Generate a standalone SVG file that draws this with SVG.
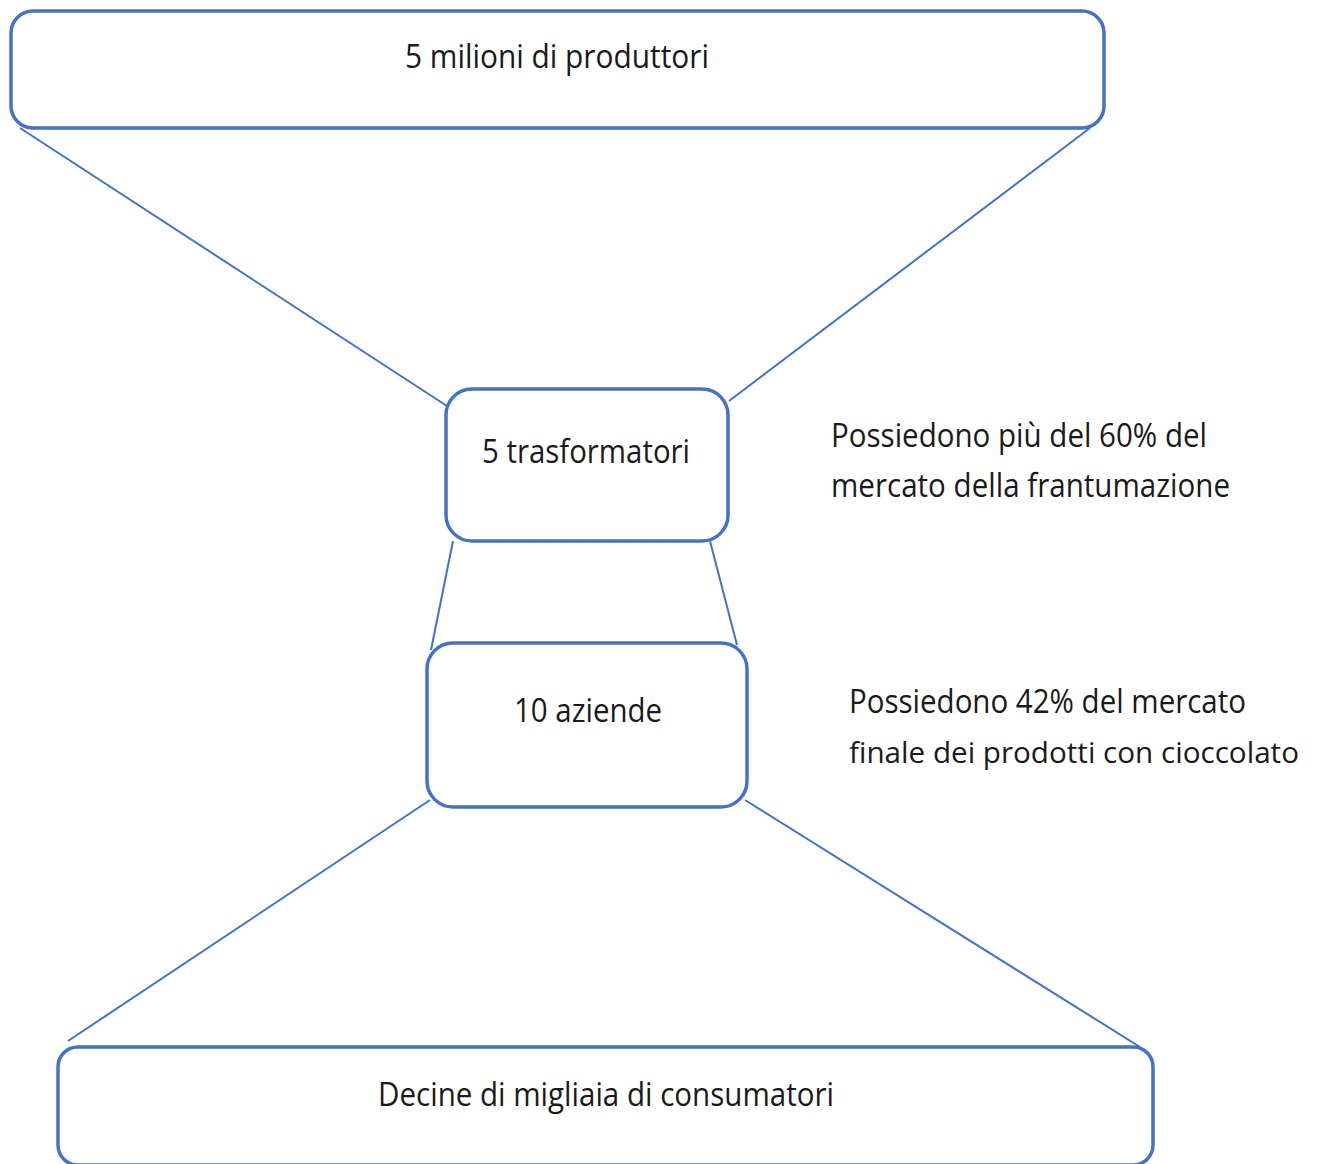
<svg xmlns="http://www.w3.org/2000/svg" width="1321" height="1164" viewBox="0 0 1321 1164">
<style>
.box{fill:#fff;stroke:#4472C4;stroke-width:3.5}
.con{stroke:#4472C4;stroke-width:2;fill:none}
text{font-family:"Open Sans","Noto Sans","Liberation Sans",sans-serif;font-size:32px;fill:#1a1a1a}
.c{text-anchor:middle}
</style>
<rect width="1321" height="1164" fill="#fff"/>
<g id="connectors">
<line class="con" x1="20" y1="128" x2="447" y2="406"/>
<line class="con" x1="1090" y1="128" x2="729" y2="401"/>
<line class="con" x1="453" y1="541" x2="431" y2="650"/>
<line class="con" x1="710" y1="541" x2="737" y2="645"/>
<line class="con" x1="430" y1="800" x2="68" y2="1041"/>
<line class="con" x1="745" y1="800" x2="1140" y2="1047"/>
</g>
<g id="produttori">
<rect class="box" x="11" y="11" width="1093" height="117" rx="22"/>
<text class="c" x="557" y="68" textLength="304" lengthAdjust="spacingAndGlyphs">5 milioni di produttori</text>
</g>
<g id="trasformatori">
<rect class="box" x="446" y="389" width="282" height="152" rx="26"/>
<text class="c" x="586" y="463" textLength="208" lengthAdjust="spacingAndGlyphs">5 trasformatori</text>
</g>
<g id="aziende">
<rect class="box" x="427" y="643" width="320" height="164" rx="26"/>
<text class="c" x="588" y="722" textLength="148" lengthAdjust="spacingAndGlyphs">10 aziende</text>
</g>
<g id="consumatori">
<rect class="box" x="58" y="1047" width="1095" height="118" rx="20"/>
<text class="c" x="606" y="1106" textLength="456" lengthAdjust="spacingAndGlyphs">Decine di migliaia di consumatori</text>
</g>
<g id="nota-trasformatori">
<text x="831" y="447" textLength="376" lengthAdjust="spacingAndGlyphs">Possiedono più del 60% del</text>
<text x="831" y="497" textLength="399" lengthAdjust="spacingAndGlyphs">mercato della frantumazione</text>
</g>
<g id="nota-aziende">
<text x="849" y="713" textLength="397" lengthAdjust="spacingAndGlyphs">Possiedono 42% del mercato</text>
<text x="849" y="763" style="font-size:29px" textLength="450" lengthAdjust="spacingAndGlyphs">finale dei prodotti con cioccolato</text>
</g>
</svg>
